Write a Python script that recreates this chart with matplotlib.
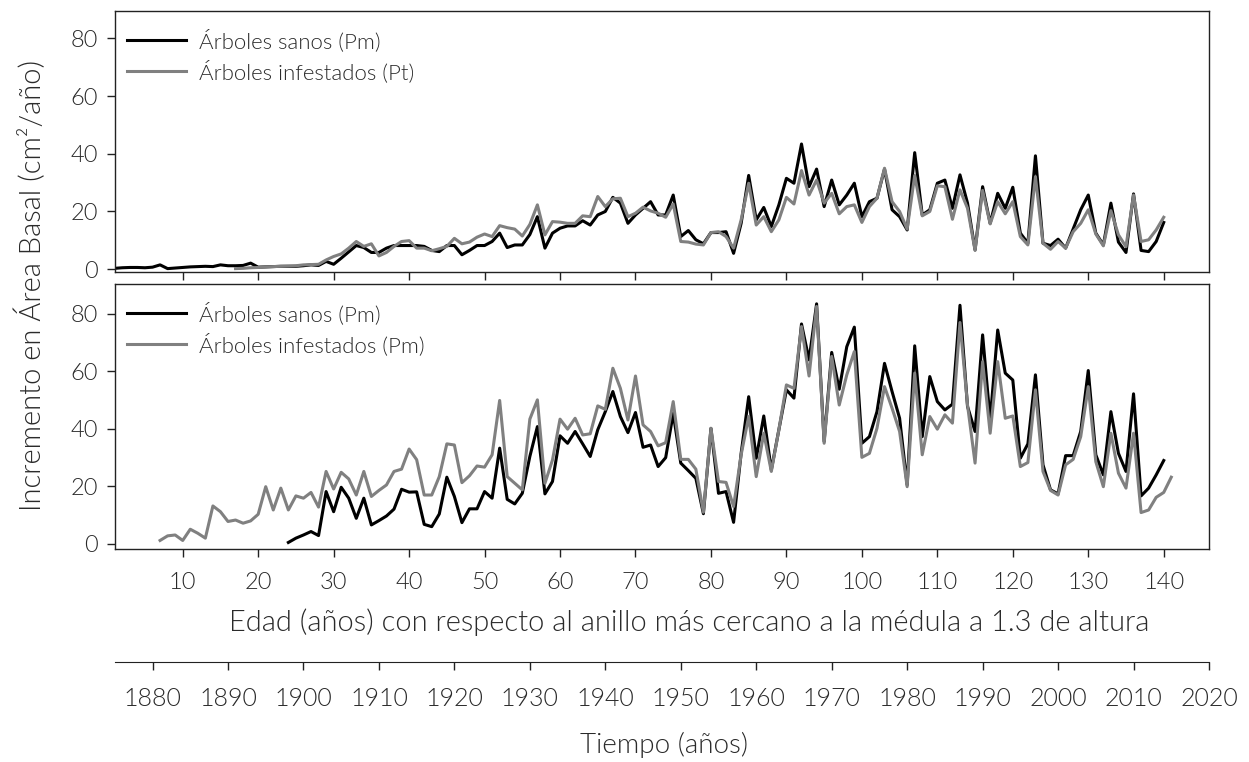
import matplotlib
matplotlib.use("Agg")
import matplotlib.pyplot as plt
import numpy as np

plt.rcParams['font.family'] = ['Lato', 'DejaVu Sans']
plt.rcParams['font.weight'] = 300

# --- data (age in years, BAI in cm2/yr) ---
top_sanos_start = 1
top_sanos = [0.3, 0.5, 0.6, 0.6, 0.5, 0.7, 1.5, 0.2, 0.4, 0.6,
             0.8, 0.9, 1.0, 0.9, 1.5, 1.2, 1.2, 1.3, 2.1, 0.7,
             0.8, 0.9, 1.0, 1.0, 1.0, 1.2, 1.5, 1.3, 2.7, 1.7,
             3.8, 6.0, 8.2, 7.5, 5.8, 5.8, 7.3, 8.2, 8.2, 8.2,
             8.2, 7.9, 6.5, 6.1, 8.2, 8.2, 5.0, 6.5, 8.2, 8.2,
             9.6, 12.5, 7.5, 8.4, 8.4, 12.0, 18.2, 7.3, 12.5, 14.2,
             15.0, 15.0, 16.8, 15.3, 18.8, 20.0, 24.9, 22.9, 15.9, 18.8,
             21.1, 23.4, 18.8, 18.8, 25.7, 11.3, 13.4, 10.2, 8.8, 12.7,
             12.7, 13.0, 5.5, 15.9, 32.5, 17.1, 21.4, 14.8, 22.3, 31.5,
             29.8, 43.4, 28.6, 34.7, 21.7, 30.9, 22.3, 25.7, 29.8, 18.2,
             23.4, 24.6, 34.7, 20.6, 18.2, 13.6, 40.4, 18.8, 20.6, 29.8,
             30.9, 21.1, 32.7, 22.9, 6.7, 28.6, 15.9, 26.3, 21.1, 28.4,
             12.5, 9.0, 39.3, 9.0, 8.2, 10.4, 7.3, 13.9, 20.6, 25.7,
             12.5, 8.4, 22.9, 9.4, 5.8, 26.1, 6.5, 6.1, 9.6, 16.2]

top_infest_start = 17
top_infest = [0.2, 0.3, 0.5, 0.6, 0.8, 0.9, 1.0, 1.1, 1.2, 1.5,
              1.6, 1.7, 3.2, 4.4, 5.3, 7.3, 9.6, 7.9, 8.8, 4.6,
              5.8, 7.9, 9.6, 9.9, 7.3, 7.3, 6.4, 7.1, 7.9, 10.7,
              8.8, 9.4, 11.1, 12.2, 11.3, 15.1, 14.4, 13.9, 11.5, 15.5,
              22.3, 11.9, 16.5, 16.3, 15.9, 15.9, 18.5, 18.2, 25.2, 21.7,
              24.4, 24.6, 18.2, 19.4, 21.5, 20.2, 19.4, 18.0, 22.6, 9.6,
              9.4, 8.7, 8.4, 12.7, 13.0, 11.3, 7.3, 17.1, 29.8, 15.3,
              18.2, 13.0, 17.1, 24.9, 22.6, 34.2, 25.7, 30.9, 22.9, 26.3,
              19.2, 21.7, 22.3, 16.2, 21.7, 24.6, 35.0, 23.4, 20.0, 13.9,
              32.5, 18.5, 20.0, 28.9, 28.6, 17.3, 27.5, 21.1, 6.5, 27.3,
              15.7, 23.4, 19.2, 23.4, 11.3, 8.4, 32.1, 9.0, 6.9, 9.6,
              7.3, 13.0, 15.9, 20.6, 12.2, 8.1, 20.3, 11.9, 7.8, 25.7,
              9.6, 10.2, 13.6, 18.0]

bot_sanos_start = 24
bot_sanos = [0.5, 2.0, 3.1, 4.3, 2.9, 18.2, 11.2, 19.7, 15.9, 8.9,
             15.9, 6.6, 8.1, 9.7, 12.1, 19.0, 18.0, 18.1, 6.8, 6.0,
             10.4, 23.2, 16.5, 7.4, 12.2, 12.2, 18.2, 15.9, 33.3, 15.5,
             13.9, 17.6, 30.4, 40.8, 17.4, 21.7, 37.6, 35.0, 39.1, 34.8,
             30.4, 39.7, 46.0, 53.0, 44.3, 38.7, 45.7, 33.6, 34.4, 26.9,
             30.0, 45.4, 28.1, 25.5, 22.8, 10.5, 40.2, 17.6, 18.2, 7.5,
             31.5, 51.2, 29.8, 44.5, 25.7, 39.7, 53.6, 50.7, 76.5, 64.0,
             83.5, 35.6, 66.6, 53.8, 68.6, 75.4, 35.0, 37.3, 46.0, 62.8,
             53.0, 43.7, 20.5, 68.9, 37.3, 58.2, 49.5, 46.6, 48.6, 83.0,
             47.8, 39.1, 72.7, 43.1, 74.4, 59.4, 57.0, 29.8, 34.8, 58.8,
             27.5, 18.8, 17.4, 30.7, 30.7, 39.1, 60.3, 31.0, 24.0, 46.0,
             31.5, 25.2, 52.2, 16.7, 19.4, 24.0, 29.0]

bot_infest_start = 7
bot_infest = [1.2, 2.8, 3.1, 1.2, 5.1, 3.7, 2.0, 13.2, 11.2, 7.8,
              8.3, 7.2, 8.0, 10.3, 19.9, 11.8, 19.4, 11.8, 16.7, 15.9,
              17.9, 12.8, 25.2, 19.1, 24.9, 22.6, 17.0, 25.2, 16.5, 18.6,
              20.5, 25.2, 26.0, 33.0, 29.3, 17.0, 17.0, 23.4, 34.8, 34.4,
              21.3, 23.7, 27.1, 26.7, 31.0, 49.9, 23.4, 21.1, 18.8, 43.4,
              50.1, 21.1, 29.2, 43.4, 39.9, 43.7, 37.9, 38.3, 48.0, 46.8,
              61.1, 54.1, 43.1, 58.4, 41.4, 39.1, 34.1, 35.2, 49.5, 29.4,
              29.4, 26.0, 11.0, 40.2, 21.7, 21.4, 13.0, 31.0, 44.3, 23.4,
              38.5, 25.2, 39.7, 55.3, 54.1, 75.6, 58.4, 82.6, 35.0, 65.2,
              48.3, 58.8, 66.9, 30.1, 31.5, 40.2, 54.7, 47.2, 39.1, 19.9,
              59.4, 31.0, 44.3, 39.9, 44.9, 42.0, 77.0, 48.3, 28.1, 63.4,
              38.5, 63.4, 43.7, 44.5, 26.9, 28.3, 53.6, 25.2, 18.6, 17.0,
              27.5, 29.4, 37.3, 54.7, 28.6, 19.9, 38.5, 24.6, 19.4, 38.5,
              10.9, 11.8, 16.2, 17.9, 23.2]

age_ticks = list(range(10, 141, 10))
year_ticks = list(range(1880, 2021, 10))
y_ticks = [0, 20, 40, 60, 80]
year_offset = 1874  # age 1 == year 1875

legend_top = ["Árboles sanos (Pm)", "Árboles infestados (Pt)"]
legend_bot = ["Árboles sanos (Pm)", "Árboles infestados (Pm)"]

BLACK = "black"
GREY = "#808080"
TXT = "#2a2a2a"

W, H = 1249, 762
fig = plt.figure(figsize=(W / 100, H / 100), dpi=100)

left = 114.8 / W
width = (1209 - 114.8) / W
ax_top = fig.add_axes([left, 1 - 271.5 / H, width, (271.5 - 11) / H])
ax_bot = fig.add_axes([left, 1 - 548.5 / H, width, (548.5 - 284) / H])


def series_x(start, vals):
    return np.arange(start, start + len(vals))


panels = [
    (ax_top, top_sanos_start, top_sanos, top_infest_start, top_infest, legend_top, (-0.8, 89.5)),
    (ax_bot, bot_sanos_start, bot_sanos, bot_infest_start, bot_infest, legend_bot, (-1.6, 90.4)),
]
for ax, s0, s, i0, inf, labels, ylim in panels:
    ax.plot(series_x(s0, s), s, color=BLACK, lw=2.2, label=labels[0])
    ax.plot(series_x(i0, inf), inf, color=GREY, lw=2.2, label=labels[1])
    ax.set_xlim(1, 146)
    ax.set_ylim(*ylim)
    ax.set_yticks(y_ticks)
    ax.set_xticks(age_ticks)
    ax.tick_params(direction='out', length=6, width=1, colors="#222222",
                   labelcolor=TXT, labelsize=17, pad=6)
    for sp in ax.spines.values():
        sp.set_color("#222222")
        sp.set_linewidth(1.0)
    ax.legend(loc='upper left', bbox_to_anchor=(-0.003, 0.99), frameon=False,
              fontsize=16, handlelength=2.65, handletextpad=0.6, labelspacing=0.35,
              borderpad=0.2, labelcolor=TXT)

ax_top.tick_params(axis='x', labelbottom=False)
ax_bot.tick_params(axis='x', pad=11)

# second x axis: calendar years
ax_year = fig.add_axes([left, 1 - 661.5 / H, width, 0.0001])
ax_year.set_xlim(1 + year_offset, 146 + year_offset)
ax_year.set_yticks([])
for name in ['top', 'left', 'right']:
    ax_year.spines[name].set_visible(False)
ax_year.spines['bottom'].set_color("#222222")
ax_year.set_xticks(year_ticks)
ax_year.tick_params(axis='x', direction='out', length=6, width=1, colors="#222222",
                    labelcolor=TXT, labelsize=18, pad=12)

fig.text(689 / W, 1 - 622 / H,
         "Edad (años) con respecto al anillo más cercano a la médula a 1.3 de altura",
         ha='center', va='center', fontsize=21, color=TXT)
fig.text(664 / W, 1 - 745 / H, "Tiempo (años)", ha='center', va='center',
         fontsize=20, color=TXT)
fig.text(30 / W, 1 - 285 / H, "Incremento en Área Basal (cm²/año)", ha='center',
         va='center', rotation=90, fontsize=21, color=TXT)

fig.savefig("out.png", dpi=100)
